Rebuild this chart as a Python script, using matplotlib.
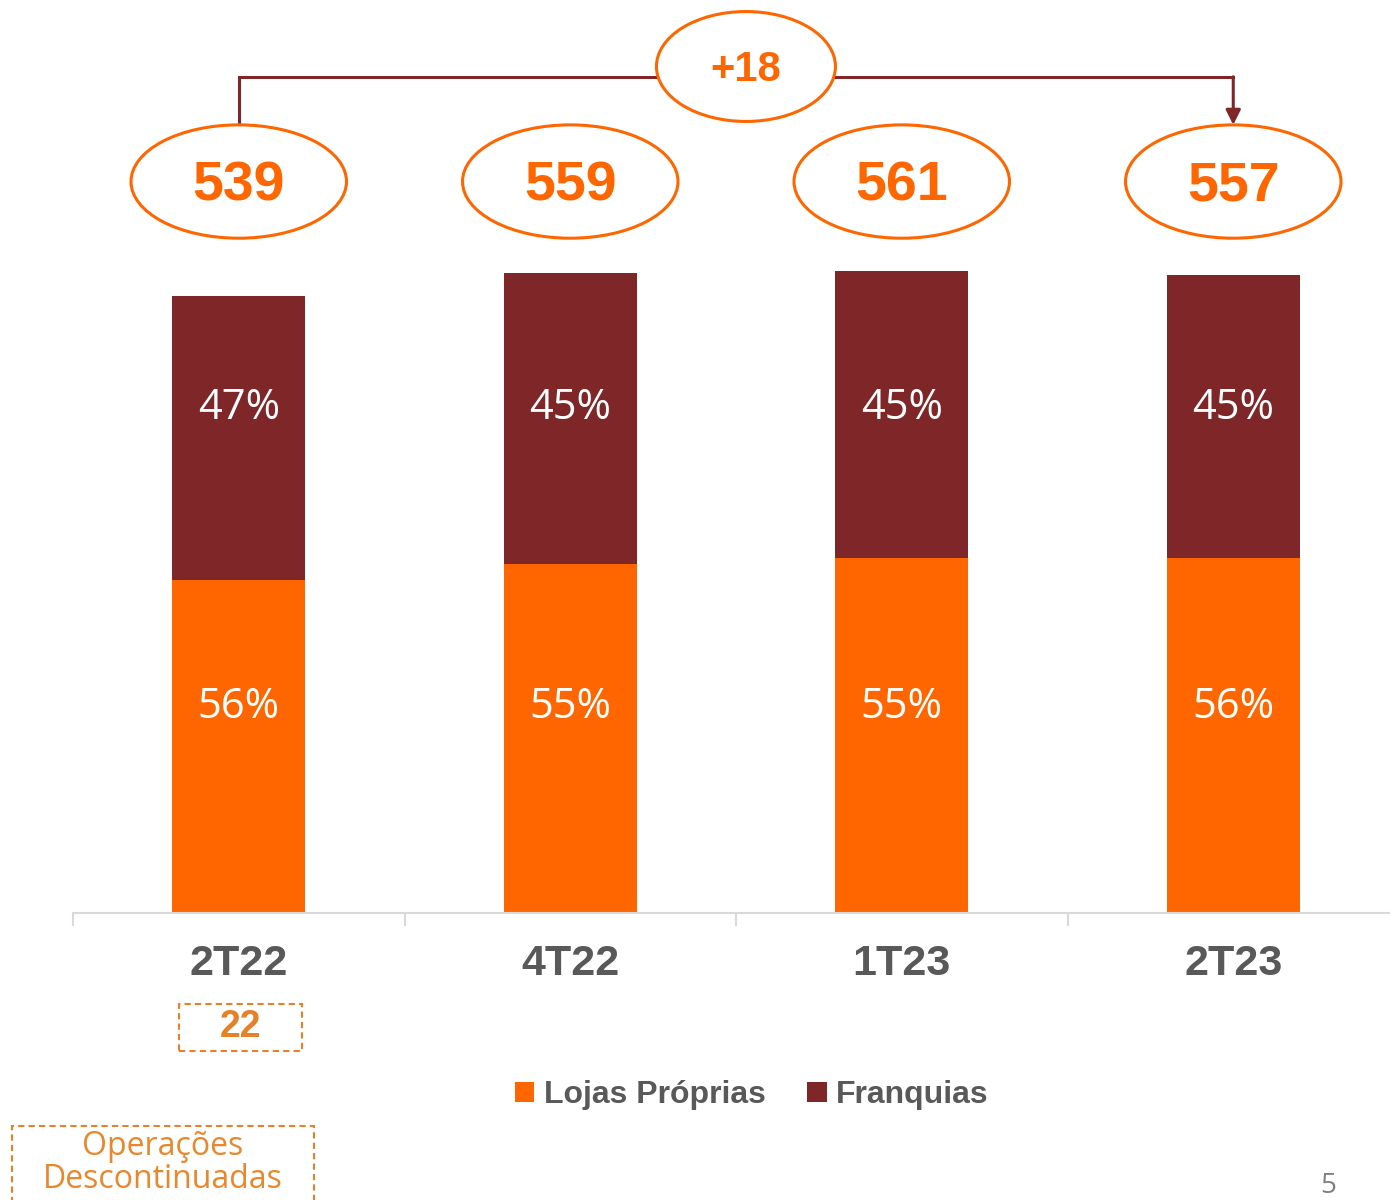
import numpy as np
import matplotlib
matplotlib.use("Agg")
import matplotlib.pyplot as plt
from matplotlib.patches import Ellipse, Rectangle, FancyArrowPatch

categories = ['2T22', '4T22', '1T23', '2T23']
lojas = [291, 305, 310, 310]
franquias = [248, 254, 251, 247]
totals = [539, 559, 561, 557]
pct_lojas = ['56%', '55%', '55%', '56%']
pct_franq = ['47%', '45%', '45%', '45%']
growth = '+18'
descont = '22'

orange = '#FF6600'
darkred = '#7F2628'
gray = '#595959'
narrow = ['Liberation Sans Narrow', 'Liberation Sans', 'DejaVu Sans']
light = ['Open Sans', 'DejaVu Sans']

fig = plt.figure(figsize=(13.9, 12), dpi=100)
ax = fig.add_axes([73/1390, 287/1200, 1326/1390, 913/1200])
x = np.arange(len(categories))
ax.bar(x, lojas, width=0.4, color=orange, label='Lojas Próprias')
ax.bar(x, franquias, width=0.4, bottom=lojas, color=darkred, label='Franquias')

ax.set_xlim(-0.5, 3.5)
ax.set_ylim(0, 913/1.1447)
for s in ['top', 'right', 'left']:
    ax.spines[s].set_visible(False)
ax.spines['bottom'].set_color('#D9D9D9')
ax.spines['bottom'].set_linewidth(1.5)
ax.set_yticks([])
ax.set_xticks(np.arange(-0.5, 4, 1))
ax.set_xticklabels([])
ax.tick_params(axis='x', length=9, width=1.5, color='#D9D9D9')
for i, c in enumerate(categories):
    ax.annotate(c, (i, 0), xytext=(0, -37), textcoords='offset points', ha='center', va='center',
                fontsize=31, fontweight='bold', color=gray, family=narrow)

# percentage labels (same height on every bar)
for i in range(len(categories)):
    ax.text(i, 180, pct_lojas[i], ha='center', va='center', fontsize=30, color='white', family=light)
    ax.text(i, 441, pct_franq[i], ha='center', va='center', fontsize=30, color='white', family=light)

# totals in ellipses
ell_y = 639
ell_h = 99
for i, t in enumerate(totals):
    ax.add_patch(Ellipse((i, ell_y), 0.65, ell_h, facecolor='white', edgecolor=orange, lw=2.2,
                         clip_on=False, zorder=3))
    ax.text(i, ell_y - 4, str(t), ha='center', va='center', fontsize=40, fontweight='bold', color=orange,
            family=narrow, zorder=4)

# growth connector
top_y = ell_y + ell_h / 2
line_y = top_y + 42
ax.plot([0, 0, 3], [top_y, line_y, line_y], color=darkred, lw=2.2, clip_on=False,
        solid_joinstyle='miter', zorder=2)
ax.add_patch(FancyArrowPatch((3, line_y), (3, top_y), arrowstyle='-|>', mutation_scale=22,
                             color=darkred, lw=2.2, clip_on=False, shrinkA=0, shrinkB=0, zorder=2))
gx = 1.53
ax.add_patch(Ellipse((gx, line_y + 9), 0.54, 96, facecolor='white', edgecolor=orange, lw=2.2,
                     clip_on=False, zorder=3))
ax.text(gx, line_y + 6, growth, ha='center', va='center', fontsize=30, fontweight='bold', color=orange,
        family=narrow, zorder=4)

# legend
leg = fig.legend(loc='center', bbox_to_anchor=(752/1390, 1 - 1095/1200), ncol=2, frameon=False,
                 handlelength=0.6, handleheight=0.6, handletextpad=0.3, columnspacing=1.3,
                 prop={'family': narrow, 'weight': 'bold', 'size': 23})
for t in leg.get_texts():
    t.set_color(gray)

# discontinued operations box
fig.patches.append(Rectangle((179/1390, 1 - 1051/1200), 123/1390, 47/1200, transform=fig.transFigure,
                             fill=False, edgecolor='#E6812A', lw=1.5, ls=(0, (3, 2))))
fig.text(241/1390, 1 - 1027/1200, descont, ha='center', va='center', fontsize=27, fontweight='bold',
         color='#E6812A', family=narrow)
fig.patches.append(Rectangle((12/1390, -0.02), 302/1390, (1200 - 1126)/1200 + 0.02, transform=fig.transFigure,
                             fill=False, edgecolor='#E6812A', lw=1.5, ls=(0, (3, 2))))
fig.text(163/1390, 1 - 1163/1200, 'Operações\nDescontinuadas', ha='center', va='center', fontsize=23,
         color='#E8872C', family=light, linespacing=1.0)

fig.text(1328/1390, 1 - 1186/1200, '5', ha='center', va='center', fontsize=20, color='#7F7F7F', family=light)

fig.savefig('out.png', dpi=100)
